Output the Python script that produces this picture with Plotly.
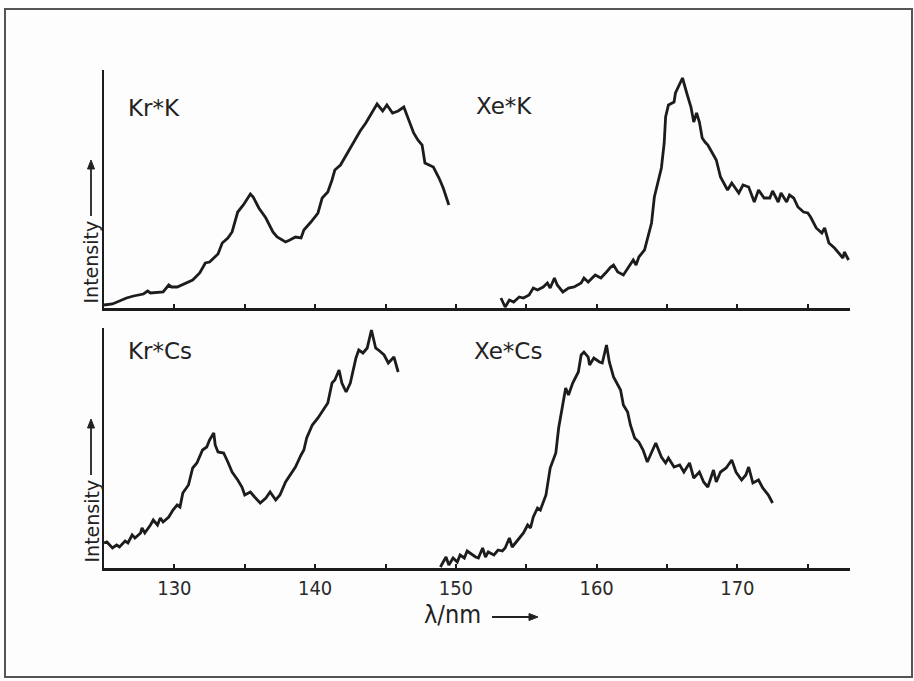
import plotly.graph_objects as go

# ---- Emission spectra (intensity in arbitrary units) ----
krk_wl = [125.0, 125.6, 126.6, 127.1, 127.8, 128.1, 128.3, 129.2, 129.6, 129.8, 130.2, 130.9,
          131.3, 131.8, 132.2, 132.5, 132.9, 133.1, 133.4, 133.8, 134.1, 134.5, 134.9, 135.4,
          135.6, 136.0, 136.5, 137.0, 137.3, 137.9, 138.2, 138.6, 139.0, 139.2, 139.7, 140.2,
          140.5, 140.9, 141.2, 141.4, 141.8, 142.2, 142.5, 142.9, 143.2, 143.6, 143.8, 144.1,
          144.4, 144.8, 145.1, 145.5, 145.9, 146.3, 146.6, 147.0, 147.3, 147.6, 147.8, 148.4,
          148.8, 149.1, 149.5]
krk_int = [3, 4, 10, 12, 14, 17, 15, 16, 23, 21, 21, 25,
           28, 35, 45, 46, 51, 54, 65, 70, 76, 96, 103, 114,
           111, 100, 90, 76, 71, 66, 68, 71, 70, 78, 86, 95,
           110, 116, 128, 138, 143, 153, 161, 170, 177, 185, 190, 196,
           204, 197, 203, 195, 197, 201, 190, 175, 168, 163, 145, 141,
           130, 120, 103]

xek_wl = [153.2, 153.5, 153.8, 154.1, 154.5, 154.8, 155.2, 155.5, 155.8, 156.2, 156.5, 156.7,
          157.0, 157.2, 157.6, 158.0, 158.4, 158.9, 159.1, 159.4, 159.9, 160.3, 160.7, 161.0,
          161.2, 161.5, 161.9, 162.2, 162.6, 162.8, 163.0, 163.4, 163.6, 163.9, 164.1, 164.4,
          164.6, 164.8, 164.9, 165.1, 165.5, 165.6, 166.1, 166.4, 166.7, 166.9, 167.1, 167.3,
          167.5, 167.7, 167.9, 168.1, 168.5, 168.8, 169.3, 169.6, 170.1, 170.4, 170.8, 171.2,
          171.5, 171.9, 172.3, 172.5, 172.9, 173.1, 173.5, 173.7, 174.0, 174.3, 174.7, 175.0,
          175.2, 175.6, 176.0, 176.2, 176.5, 176.9, 177.2, 177.5, 177.6, 177.9]
xek_int = [10, 1, 8, 6, 11, 10, 13, 20, 18, 21, 25, 20,
           30, 23, 16, 20, 21, 25, 30, 26, 33, 30, 36, 41,
           43, 36, 33, 40, 48, 43, 51, 58, 68, 85, 111, 128,
           140, 165, 191, 203, 206, 215, 230, 215, 201, 186, 195, 186,
           170, 166, 163, 158, 148, 131, 118, 125, 115, 123, 121, 106,
           118, 110, 110, 117, 106, 115, 106, 113, 110, 101, 96, 95,
           91, 80, 75, 80, 65, 60, 55, 50, 56, 48]

krcs_wl = [125.0, 125.2, 125.6, 125.9, 126.1, 126.5, 126.7, 127.0, 127.2, 127.6, 127.7, 127.9,
           128.3, 128.5, 128.8, 129.0, 129.2, 129.6, 129.9, 130.2, 130.4, 130.6, 131.0, 131.3,
           131.6, 131.8, 132.0, 132.3, 132.5, 132.8, 132.9, 133.1, 133.5, 133.8, 134.1, 134.5,
           134.8, 135.0, 135.4, 135.7, 136.1, 136.5, 136.8, 137.2, 137.5, 137.9, 138.2, 138.6,
           139.0, 139.2, 139.4, 139.8, 140.2, 140.6, 140.9, 141.2, 141.4, 141.7, 141.9, 142.2,
           142.5, 142.9, 143.1, 143.4, 143.7, 144.0, 144.3, 144.5, 144.9, 145.2, 145.6, 145.9]
krcs_int = [25, 26, 20, 23, 21, 27, 25, 33, 30, 35, 40, 35,
            43, 48, 43, 50, 46, 51, 58, 63, 61, 75, 83, 100,
            105, 111, 118, 121, 128, 135, 123, 116, 115, 106, 96, 88,
            81, 73, 76, 71, 65, 70, 76, 68, 73, 86, 93, 101,
            113, 118, 130, 143, 150, 158, 165, 185, 188, 198, 185, 176,
            185, 210, 218, 215, 220, 238, 220, 218, 213, 205, 211, 196]

xecs_wl = [148.9, 149.3, 149.5, 149.8, 150.1, 150.3, 150.6, 150.8, 151.0, 151.4, 151.6, 151.9,
           152.1, 152.3, 152.7, 153.0, 153.3, 153.5, 153.8, 154.0, 154.4, 154.8, 155.1, 155.3,
           155.5, 155.8, 156.0, 156.4, 156.7, 157.1, 157.3, 157.6, 157.8, 158.0, 158.3, 158.7,
           158.9, 159.1, 159.4, 159.5, 159.8, 160.2, 160.4, 160.7, 160.9, 161.2, 161.5, 161.7,
           161.9, 162.2, 162.4, 162.7, 163.0, 163.3, 163.6, 163.9, 164.2, 164.6, 164.9, 165.1,
           165.5, 165.9, 166.2, 166.6, 166.9, 167.3, 167.6, 167.9, 168.3, 168.5, 168.8, 169.2,
           169.6, 169.9, 170.3, 170.6, 170.8, 171.1, 171.5, 171.8, 172.2, 172.5]
xecs_int = [1, 11, 3, 10, 6, 13, 10, 17, 15, 11, 10, 20,
            11, 16, 13, 18, 17, 20, 30, 21, 28, 35, 43, 40,
            51, 60, 58, 73, 100, 115, 140, 166, 180, 173, 185, 196,
            213, 216, 211, 203, 210, 206, 205, 223, 206, 191, 183, 178,
            163, 156, 143, 130, 126, 118, 106, 116, 125, 111, 105, 110,
            101, 103, 96, 105, 90, 96, 86, 81, 98, 86, 96, 100,
            108, 96, 88, 93, 101, 85, 88, 80, 73, 65]

panel_labels = ["Kr*K", "Xe*K", "Kr*Cs", "Xe*Cs"]
x_tick_vals = [130, 140, 150, 160, 170]
x_minor_vals = [135, 145, 155, 165, 175]
x_title = "λ/nm"
y_title = "Intensity"

W, H = 914, 681
INK = "#1c1c1c"
FONT = "DejaVu Sans"


def fx(p):
    return p / W


def fy(p):
    return 1 - p / H


fig = go.Figure()
line = dict(color=INK, width=2.8)
fig.add_trace(go.Scatter(x=krk_wl, y=krk_int, mode="lines", line=line, xaxis="x", yaxis="y"))
fig.add_trace(go.Scatter(x=xek_wl, y=xek_int, mode="lines", line=line, xaxis="x", yaxis="y"))
fig.add_trace(go.Scatter(x=krcs_wl, y=krcs_int, mode="lines", line=line, xaxis="x2", yaxis="y2"))
fig.add_trace(go.Scatter(x=xecs_wl, y=xecs_int, mode="lines", line=line, xaxis="x2", yaxis="y2"))

xdom = [fx(104), fx(850)]
common_x = dict(range=[125, 178], domain=xdom, showgrid=False, zeroline=False,
                showline=True, linecolor=INK, linewidth=2.5,
                ticks="inside", ticklen=4, tickwidth=2, tickcolor=INK,
                tickvals=x_tick_vals,
                minor=dict(ticks="inside", ticklen=4, tickwidth=2, tickcolor=INK,
                           tickvals=x_minor_vals))
common_y = dict(showgrid=False, zeroline=False, showline=True, linecolor=INK, linewidth=2,
                showticklabels=False, ticks="")

fig.update_layout(
    width=W, height=H,
    margin=dict(l=0, r=0, t=0, b=0),
    paper_bgcolor="#fdfdfd", plot_bgcolor="rgba(0,0,0,0)",
    showlegend=False,
    xaxis=dict(**common_x, anchor="y", showticklabels=False),
    yaxis=dict(**common_y, range=[0, 238], domain=[fy(308), fy(70)], anchor="x"),
    xaxis2=dict(**common_x, anchor="y2", showticklabels=True,
                tickfont=dict(family="DejaVu Sans Condensed", size=20, color="#2a2a2a")),
    yaxis2=dict(**common_y, range=[0, 240], domain=[fy(568), fy(328)], anchor="x2"),
)

annotations = []
# Panel labels
for text, (x0, y0) in zip(panel_labels, [(126, 108), (474, 106), (126, 351), (472, 351)]):
    annotations.append(dict(text=text, x=fx(x0), y=fy(y0), xref="paper", yref="paper",
                            xanchor="left", yanchor="middle", showarrow=False,
                            font=dict(family=FONT, size=23, color="#222")))

# Vertical "Intensity" labels
for y_bot in (306, 565):
    annotations.append(dict(text=y_title, x=fx(91), y=fy(y_bot), xref="paper", yref="paper",
                            xanchor="center", yanchor="bottom", textangle=-90, showarrow=False,
                            font=dict(family=FONT, size=19, color="#222")))

# Wavelength axis title
annotations.append(dict(text=x_title, x=fx(452), y=fy(614), xref="paper", yref="paper",
                        xanchor="center", yanchor="middle", showarrow=False,
                        font=dict(family="DejaVu Sans Condensed", size=25, color="#222")))
fig.update_layout(annotations=annotations)


def arrow(x0, y0, x1, y1, head=9, half=3.5):
    """Arrow from (x0, y0) to (x1, y1) in pixel coordinates, drawn as shapes."""
    dx, dy = x1 - x0, y1 - y0
    length = (dx * dx + dy * dy) ** 0.5
    ux, uy = dx / length, dy / length
    bx, by = x1 - ux * head, y1 - uy * head
    px_, py_ = -uy * half, ux * half
    fig.add_shape(type="line", xref="paper", yref="paper",
                  x0=fx(x0), y0=fy(y0), x1=fx(bx), y1=fy(by),
                  line=dict(color="#222", width=1.8))
    path = (f"M {fx(x1)},{fy(y1)} L {fx(bx + px_)},{fy(by + py_)} "
            f"L {fx(bx - px_)},{fy(by - py_)} Z")
    fig.add_shape(type="path", xref="paper", yref="paper", path=path,
                  fillcolor="#222", line=dict(color="#222", width=1))


# Upward intensity arrows and wavelength arrow
arrow(91, 216, 91, 160)
arrow(91, 475, 91, 419)
arrow(492, 617, 538, 617)

# Outer frame
fig.add_shape(type="rect", xref="paper", yref="paper",
              x0=fx(5), x1=fx(912), y0=fy(677), y1=fy(9),
              line=dict(color="#555", width=2))

fig.write_html("out.html")
